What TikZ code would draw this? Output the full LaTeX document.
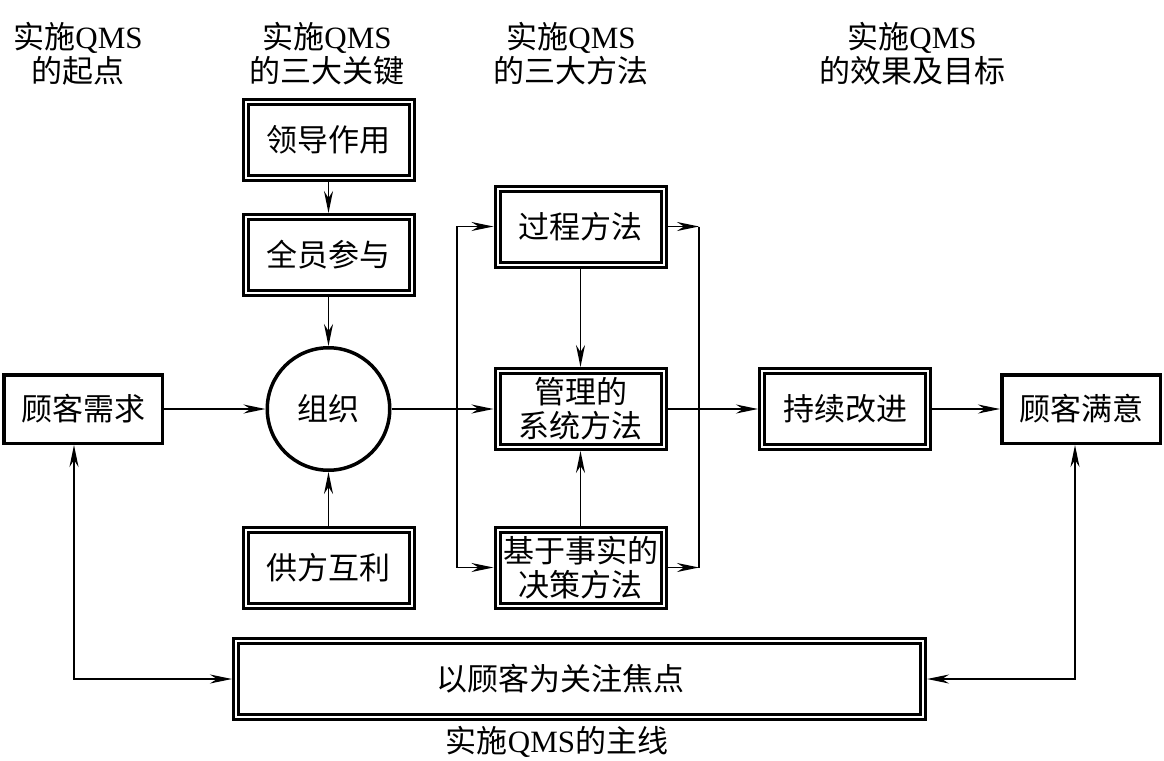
\documentclass[tikz,border=0pt]{standalone}
\usepackage{fontspec}
\setmainfont{Liberation Serif}
\newfontfamily\cjk{Noto Sans CJK SC}
\usetikzlibrary{arrows.meta}
\newcommand\QMSt{{\rmfamily QMS}}
\begin{document}
\begin{tikzpicture}[x=1pt,y=-1pt,
  every node/.style={font=\cjk\fontsize{31}{34}\selectfont},
  dbox/.style={draw, double, line width=3pt, double distance=2pt,
    minimum width=166pt, minimum height=76pt, inner sep=0pt,
    outer sep=4pt, align=center},
  sbox/.style={draw, line width=3.5pt, minimum width=158.5pt,
    minimum height=68.5pt, inner sep=0pt, outer sep=1.75pt},
  orgc/.style={circle, draw, line width=3.5pt, minimum size=122.5pt,
    inner sep=0pt, outer sep=1.75pt},
  head/.style={align=center},
  tip/.tip={Stealth[length=22pt,width=9pt,inset=7pt]},
  conn/.style={line width=1.5pt, -tip},
  conn2/.style={line width=1.5pt, tip-tip},
  plain/.style={line width=1.5pt}]
\useasboundingbox (0,0) rectangle (1164,760);

% column headers
\node[head] (h1) at (78,54) {实施\QMSt\\的起点};
\node[head] (h2) at (327,54) {实施\QMSt\\的三大关键};
\node[head] (h3) at (571,54) {实施\QMSt\\的三大方法};
\node[head] (h4) at (912,54) {实施\QMSt\\的效果及目标};

% nodes
\node[sbox] (xq) at (83,409) {顾客需求};
\node[dbox] (ld) at (328.5,140) {领导作用};
\node[dbox] (qy) at (328.5,255) {全员参与};
\node[orgc] (zz) at (328.5,409) {组织};
\node[dbox] (gf) at (328.5,567.5) {供方互利};
\node[dbox] (gc) at (580.5,226.5) {过程方法};
\node[dbox] (xt) at (580.5,409) {管理的\\系统方法};
\node[dbox] (js) at (580.5,567.5) {基于事实的\\决策方法};
\node[dbox] (cx) at (845,409) {持续改进};
\node[sbox] (my) at (1081,409) {顾客满意};
\node[dbox, minimum width=687pt] (fo) at (579.5,679) {以顾客为关注焦点\hspace*{38pt}};
\node (h5) at (557,742) {实施\QMSt{}的主线};

% connectors
\coordinate (L) at (457,409);
\coordinate (R) at (699,409);
\draw[conn] (xq.east) -- (zz.west);
\draw[conn] (ld) -- (qy);
\draw[conn] (qy) -- (zz);
\draw[conn] (gf) -- (zz);
\draw[conn] (zz.east) -- (xt.west);
\draw[conn] (L) |- (gc.west);
\draw[conn] (L) |- (js.west);
\draw[conn] (gc) -- (xt);
\draw[conn] (js) -- (xt);
\draw[conn] (gc.east) -- (gc.east -| R);
\draw[conn] (js.east) -- (js.east -| R);
\draw[plain] (gc.east -| R) -- (js.east -| R);
\draw[conn] (xt.east) -- (cx.west);
\draw[conn] (cx.east) -- (my.west);
\draw[conn2] ([xshift=-9pt]xq.south) |- (fo.west);
\draw[conn2] ([xshift=-6pt]my.south) |- (fo.east);
\end{tikzpicture}
\end{document}
